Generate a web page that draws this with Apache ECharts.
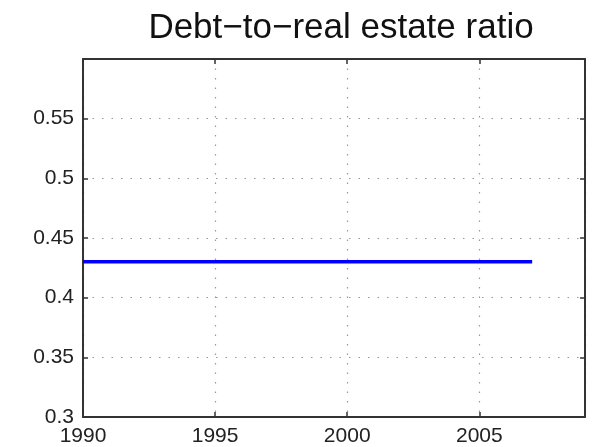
<!DOCTYPE html>
<html>
<head>
<meta charset="utf-8">
<script src="https://cdn.jsdelivr.net/npm/echarts@6/dist/echarts.min.js"></script>
<style>
  html, body { margin: 0; padding: 0; background: #fff; }
  #chart { width: 598px; height: 447px; }
</style>
</head>
<body>
<div id="chart"></div>
<script>
// Debt-to-real estate ratio, held flat over the sample period
const years = [1990, 1991, 1992, 1993, 1994, 1995, 1996, 1997, 1998, 1999,
               2000, 2001, 2002, 2003, 2004, 2005, 2006, 2007];
const ratio = [0.43, 0.43, 0.43, 0.43, 0.43, 0.43, 0.43, 0.43, 0.43, 0.43,
               0.43, 0.43, 0.43, 0.43, 0.43, 0.43, 0.43, 0.43];
const xRange = [1990, 2009];
const yRange = [0.3, 0.6];
const xStep = 5;
const yStep = 0.05;

const FONT = '"Liberation Sans", Arial, Helvetica, sans-serif';
const frame = { show: true, lineStyle: { color: '#333', width: 2 } };
const tickIn = { show: true, inside: true, length: 5, lineStyle: { color: '#333', width: 1.5 } };
const dotted = { show: true, lineStyle: { color: '#999', width: 1.2, type: [1.5, 8] } };

const chart = echarts.init(document.getElementById('chart'), null, { renderer: 'canvas' });
chart.setOption({
  animation: false,
  backgroundColor: '#fff',
  title: {
    text: 'Debt\u2212to\u2212real estate ratio',
    left: 336, top: 6, textAlign: 'center',
    textStyle: { fontFamily: FONT, fontSize: 35, fontWeight: 'normal', color: '#111' }
  },
  grid: { left: 83, right: 13, top: 59, bottom: 30 },
  xAxis: [
    {
      type: 'value', min: xRange[0], max: xRange[1], interval: xStep, position: 'bottom',
      axisLine: frame, axisTick: tickIn, splitLine: dotted,
      axisLabel: { fontFamily: FONT, fontSize: 21, color: '#222', margin: 9, showMaxLabel: false,
                   formatter: v => String(v) }
    },
    {
      type: 'value', min: xRange[0], max: xRange[1], interval: xStep, position: 'top',
      axisLine: frame, axisTick: tickIn, splitLine: { show: false }, axisLabel: { show: false }
    }
  ],
  yAxis: [
    {
      type: 'value', min: yRange[0], max: yRange[1], interval: yStep, position: 'left',
      axisLine: frame, axisTick: tickIn, splitLine: dotted,
      axisLabel: { fontFamily: FONT, fontSize: 21, color: '#222', margin: 9, showMaxLabel: false,
                   formatter: v => String(+v.toFixed(2)) }
    },
    {
      type: 'value', min: yRange[0], max: yRange[1], interval: yStep, position: 'right',
      axisLine: frame, axisTick: tickIn, splitLine: { show: false }, axisLabel: { show: false }
    }
  ],
  series: [{
    type: 'line',
    data: years.map((y, i) => [y, ratio[i]]),
    showSymbol: false,
    symbol: 'none',
    lineStyle: { color: '#0000ff', width: 3.5 },
    z: 5
  }]
});
</script>
</body>
</html>
